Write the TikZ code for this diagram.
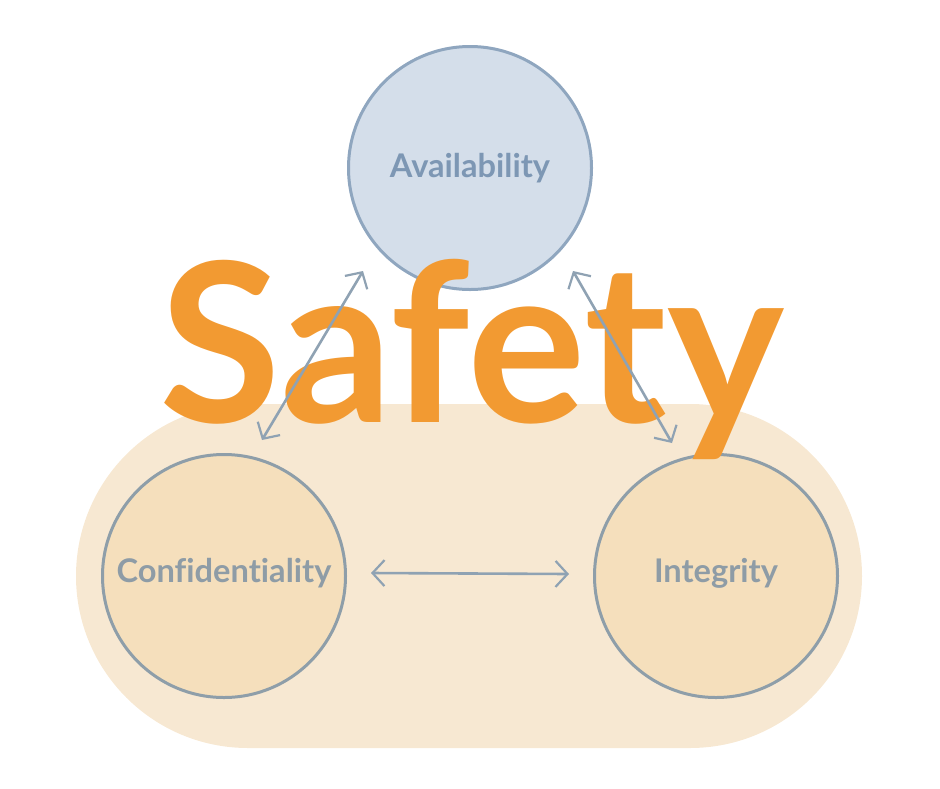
\documentclass[tikz,border=0pt]{standalone}
\usepackage{fontspec}
\setmainfont{Lato}[Ligatures=NoCommon]
\usetikzlibrary{arrows.meta}
\definecolor{pillc}{HTML}{F7E8D2}
\definecolor{botfill}{HTML}{F5DFBC}
\definecolor{botline}{HTML}{8E9EA9}
\definecolor{topfill}{HTML}{D4DEEA}
\definecolor{topline}{HTML}{8FA6BF}
\definecolor{toptext}{HTML}{7D97B4}
\definecolor{bottext}{HTML}{8E9CA6}
\definecolor{arrc}{HTML}{8FA2B3}
\definecolor{safec}{HTML}{F29A32}
\tikzset{
  circnode/.style={circle, minimum size=243pt, line width=3pt, inner sep=0pt},
  lbl/.style={font=\fontsize{32.6}{38}\selectfont\bfseries},
  arr/.style={arrc, line width=2.6pt, line cap=round, {Straight Barb[length=12pt,width=26pt,line width=2.2pt]}-{Straight Barb[length=12pt,width=26pt,line width=2.2pt]}}
}
\begin{document}
\begin{tikzpicture}[x=1pt,y=-1pt]
\useasboundingbox (0,0) rectangle (940,788);
\fill[pillc, rounded corners=172pt] (76,404) rectangle (862,748);
\node[circnode, draw=topline, fill=topfill] (avail) at (470,168) {};
\node[lbl, text=toptext] (availt) at (470,168) {Availability};
\node[circnode, draw=botline, fill=botfill] (conf) at (224,576) {};
\node[lbl, text=bottext] (conft) at (224,573) {Confidentiality};
\node[circnode, draw=botline, fill=botfill] (integ) at (716,576) {};
\node[lbl, text=bottext] (integt) at (716,573) {Integrity};
\coordinate (a1) at (262,440);
\coordinate (a2) at (363,271);
\coordinate (b1) at (573,271);
\coordinate (b2) at (672,443);
\coordinate (c1) at (371,573);
\coordinate (c2) at (569,574);
\node[font=\fontsize{222}{250}\selectfont\bfseries, text=safec, anchor=base, inner sep=0pt] (safety) at (472,422) {Safety};
\draw[arr] (a1) -- (a2);
\draw[arr] (b1) -- (b2);
\draw[arr] (c1) -- (c2);
\end{tikzpicture}
\end{document}
